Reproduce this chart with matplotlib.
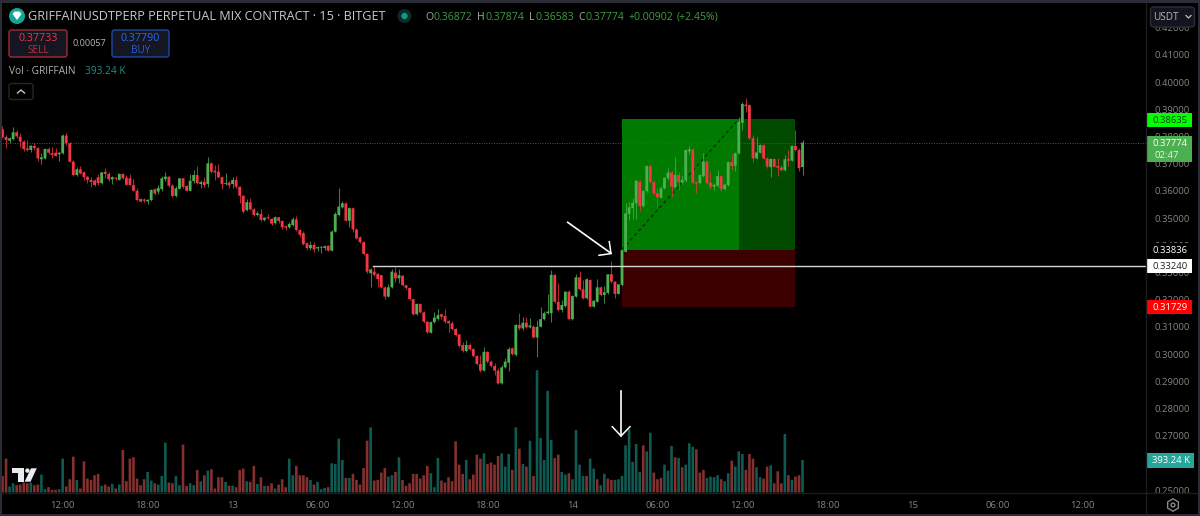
#!/usr/bin/env python3
"""GRIFFAINUSDTPERP 15m chart with a long position box, TradingView dark look."""

import matplotlib
matplotlib.use("Agg")
import matplotlib.pyplot as plt
from matplotlib.patches import Circle, FancyBboxPatch, Polygon, Rectangle, RegularPolygon

plt.rcParams["font.family"] = ["Open Sans", "DejaVu Sans"]

opens = [
    .3826, .3798, .3784, .3790, .3815, .3799, .3781, .3756, .3750, .3765,
    .3757, .3716, .3719, .3754, .3738, .3740, .3734, .3738, .3803, .3775,
    .3707, .3658, .3679, .3668, .3652, .3640, .3638, .3650, .3628, .3670,
    .3662, .3642, .3648, .3640, .3662, .3648, .3646, .3621, .3600, .3570,
    .3568, .3561, .3566, .3606, .3597, .3606, .3643, .3652, .3619, .3581,
    .3607, .3646, .3618, .3600, .3636, .3658, .3625, .3633, .3625, .3701,
    .3674, .3670, .3650, .3625, .3630, .3625, .3640, .3615, .3582, .3529,
    .3558, .3532, .3511, .3515, .3493, .3503, .3497, .3481, .3503, .3489,
    .3470, .3466, .3474, .3495, .3456, .3444, .3407, .3389, .3401, .3388,
    .3391, .3390, .3398, .3380, .3450, .3511, .3539, .3554, .3490, .3536,
    .3458, .3429, .3411, .3368, .3297, .3303, .3295, .3290, .3245, .3211,
    .3245, .3299, .3278, .3288, .3253, .3243, .3202, .3146, .3184, .3153,
    .3119, .3078, .3117, .3129, .3146, .3140, .3121, .3113, .3092, .3072,
    .3033, .3011, .3033, .3018, .2993, .2963, .2939, .3008, .2972, .2956,
    .2939, .2892, .2951, .2968, .3021, .2997, .3107, .3094, .3115, .3098,
    .3100, .3061, .3100, .3128, .3150, .3150, .3291, .3192, .3162, .3176,
    .3229, .3128, .3211, .3282, .3238, .3205, .3272, .3174, .3192, .3245,
    .3217, .3225, .3293, .3266, .3221, .3254, .3376, .3515, .3536, .3554,
    .3633, .3544, .3599, .3691, .3633, .3591, .3575, .3609, .3646, .3667,
    .3613, .3658, .3630, .3637, .3745, .3752, .3632, .3628, .3654, .3707,
    .3630, .3615, .3618, .3654, .3606, .3621, .3705, .3692, .3738, .3850,
    .3917, .3915, .3793, .3719, .3740, .3768, .3719, .3687, .3717, .3691,
    .3686, .3676, .3716, .3711, .3765, .3750, .36872,
]
highs = [
    .3838, .3805, .3799, .3833, .3824, .3811, .3787, .3787, .3770, .3775,
    .3762, .3739, .3754, .3762, .3762, .3756, .3741, .3810, .3812, .3780,
    .3712, .3686, .3692, .3674, .3655, .3652, .3645, .3660, .3670, .3683,
    .3670, .3655, .3652, .3665, .3664, .3658, .3662, .3645, .3610, .3575,
    .3573, .3570, .3605, .3612, .3621, .3654, .3670, .3655, .3625, .3618,
    .3648, .3648, .3622, .3662, .3676, .3691, .3640, .3652, .3724, .3705,
    .3695, .3699, .3655, .3665, .3635, .3650, .3654, .3618, .3585, .3570,
    .3574, .3537, .3525, .3533, .3504, .3515, .3500, .3507, .3505, .3492,
    .3475, .3485, .3505, .3507, .3460, .3452, .3413, .3415, .3412, .3396,
    .3398, .3399, .3400, .3456, .3522, .3609, .3562, .3558, .3540, .3540,
    .3462, .3434, .3415, .3372, .3316, .3324, .3298, .3292, .3250, .3257,
    .3312, .3319, .3312, .3290, .3255, .3245, .3204, .3186, .3186, .3158,
    .3122, .3122, .3154, .3164, .3150, .3164, .3126, .3120, .3096, .3075,
    .3044, .3051, .3040, .3022, .2996, .2996, .3025, .3011, .2978, .2967,
    .2950, .2958, .2985, .3025, .3025, .3110, .3150, .3136, .3136, .3132,
    .3107, .3125, .3174, .3158, .3220, .3309, .3295, .3261, .3198, .3231,
    .3235, .3216, .3294, .3305, .3272, .3279, .3275, .3198, .3275, .3250,
    .3250, .3295, .3342, .3268, .3258, .3385, .3555, .3559, .3574, .3641,
    .3641, .3603, .3695, .3699, .3636, .3610, .3617, .3651, .3684, .3673,
    .3724, .3669, .3658, .3754, .3765, .3757, .3636, .3662, .3739, .3710,
    .3669, .3630, .3676, .3658, .3628, .3710, .3735, .3742, .3871, .3926,
    .3940, .3919, .3805, .3798, .3772, .3772, .3723, .3721, .3721, .3721,
    .3695, .3732, .3750, .3768, .3824, .3757, .37874,
]
lows = [
    .3793, .3756, .3777, .3787, .3795, .3762, .3748, .3748, .3742, .3750,
    .3711, .3697, .3716, .3734, .3722, .3728, .3711, .3735, .3770, .3705,
    .3655, .3655, .3660, .3640, .3630, .3615, .3618, .3622, .3625, .3646,
    .3636, .3625, .3640, .3638, .3642, .3620, .3620, .3598, .3562, .3558,
    .3560, .3551, .3562, .3585, .3588, .3600, .3637, .3615, .3578, .3577,
    .3605, .3610, .3598, .3598, .3630, .3625, .3609, .3615, .3615, .3665,
    .3640, .3648, .3607, .3623, .3610, .3610, .3612, .3555, .3518, .3525,
    .3528, .3507, .3509, .3489, .3489, .3497, .3474, .3478, .3483, .3460,
    .3456, .3463, .3470, .3454, .3430, .3402, .3382, .3382, .3375, .3380,
    .3372, .3384, .3378, .3378, .3448, .3508, .3535, .3488, .3466, .3449,
    .3422, .3408, .3364, .3299, .3247, .3288, .3247, .3241, .3202, .3208,
    .3243, .3266, .3260, .3249, .3240, .3198, .3143, .3144, .3150, .3115,
    .3076, .3076, .3113, .3125, .3130, .3115, .3081, .3089, .3066, .3026,
    .3007, .3007, .3014, .2989, .2959, .2934, .2936, .2968, .2952, .2923,
    .2890, .2890, .2947, .2938, .2996, .2993, .3090, .3090, .3094, .3094,
    .3058, .2990, .3098, .3125, .3146, .3118, .3189, .3158, .3154, .3172,
    .3125, .3125, .3209, .3235, .3202, .3202, .3172, .3172, .3190, .3213,
    .3186, .3222, .3261, .3206, .3219, .3250, .3374, .3493, .3497, .3496,
    .3526, .3540, .3596, .3628, .3584, .3540, .3572, .3606, .3640, .3577,
    .3610, .3603, .3626, .3633, .3735, .3625, .3593, .3625, .3651, .3625,
    .3606, .3603, .3614, .3599, .3603, .3618, .3676, .3673, .3735, .3822,
    .3888, .3790, .3705, .3717, .3738, .3717, .3683, .3650, .3686, .3654,
    .3672, .3672, .3691, .3709, .3746, .3672, .36583,
]
closes = [
    .3797, .3787, .3793, .3815, .3800, .3781, .3753, .3750, .3766, .3757,
    .3719, .3723, .3754, .3740, .3732, .3728, .3740, .3803, .3775, .3707,
    .3658, .3679, .3664, .3650, .3640, .3632, .3621, .3628, .3668, .3662,
    .3642, .3650, .3644, .3662, .3646, .3622, .3621, .3600, .3566, .3560,
    .3563, .3567, .3603, .3590, .3610, .3646, .3652, .3619, .3581, .3609,
    .3646, .3615, .3600, .3637, .3658, .3628, .3632, .3621, .3701, .3670,
    .3667, .3650, .3625, .3628, .3620, .3640, .3615, .3582, .3523, .3558,
    .3532, .3511, .3517, .3493, .3501, .3499, .3479, .3503, .3489, .3466,
    .3465, .3478, .3495, .3456, .3438, .3404, .3389, .3401, .3384, .3393,
    .3394, .3396, .3380, .3450, .3515, .3542, .3554, .3490, .3536, .3458,
    .3425, .3411, .3368, .3303, .3311, .3291, .3275, .3245, .3211, .3245,
    .3303, .3278, .3290, .3253, .3243, .3202, .3146, .3184, .3153, .3119,
    .3080, .3117, .3134, .3143, .3137, .3119, .3113, .3092, .3070, .3030,
    .3012, .3033, .3017, .2993, .2963, .2939, .3008, .2972, .2956, .2939,
    .2892, .2951, .2972, .3018, .3000, .3107, .3094, .3115, .3098, .3105,
    .3061, .3100, .3128, .3150, .3156, .3291, .3192, .3162, .3180, .3229,
    .3128, .3213, .3282, .3238, .3205, .3275, .3174, .3196, .3245, .3217,
    .3227, .3293, .3266, .3221, .3256, .3382, .3517, .3539, .3556, .3637,
    .3544, .3600, .3691, .3633, .3591, .3576, .3609, .3648, .3667, .3615,
    .3658, .3631, .3640, .3750, .3752, .3630, .3627, .3658, .3707, .3628,
    .3615, .3622, .3654, .3606, .3623, .3705, .3691, .3738, .3854, .3919,
    .3911, .3793, .3719, .3741, .3768, .3719, .3689, .3717, .3689, .3685,
    .3676, .3716, .3711, .3765, .3750, .3683, .37774,
]
# volume in thousands, 227 bars
volumes = [
    200, 408, 72, 112, 88, 96, 120, 112, 120, 88,
    96, 216, 40, 64, 32, 32, 40, 408, 72, 160,
    432, 152, 48, 376, 168, 152, 208, 224, 80, 96,
    72, 104, 48, 96, 512, 136, 408, 424, 168, 88,
    160, 248, 144, 112, 96, 200, 600, 120, 112, 200,
    88, 576, 80, 112, 88, 272, 136, 208, 264, 280,
    48, 184, 184, 128, 80, 80, 64, 272, 288, 136,
    128, 320, 104, 184, 80, 80, 112, 48, 96, 160,
    64, 408, 208, 320, 208, 208, 184, 152, 96, 128,
    40, 56, 64, 352, 344, 648, 392, 176, 176, 224,
    152, 96, 296, 624, 784, 144, 152, 240, 296, 192,
    208, 248, 424, 152, 80, 112,
    224, 224, 168, 208, 320, 232, 64, 416, 144, 120,
    184, 136, 616, 336, 224, 392, 160, 216, 456, 408,
    472, 344, 360, 336, 440, 472, 312, 464, 272, 784,
    528, 344, 312, 624, 200, 1472, 656, 392, 1224, 632,
    416, 456, 248, 216, 232, 160, 752, 336, 200, 200,
    408, 288, 160, 88, 224, 168, 152, 152, 160, 200,
    568, 760, 368, 584, 248, 568, 496, 720, 240, 160,
    176, 336, 264, 560, 424, 416, 304, 336, 592, 552,
    520, 240, 272, 176, 192, 184, 208, 160, 136, 232,
    384, 312, 496, 464, 272, 464, 408, 304, 184, 168,
    312, 328, 112, 256, 112, 704, 208, 152, 192, 208, 392,
]
vol_up = [
    0, 0, 1, 1, 0, 0, 0, 0, 1, 0,
    0, 1, 1, 0, 0, 0, 1, 1, 0, 0,
    0, 1, 0, 0, 0, 0, 0, 0, 1, 0,
    0, 1, 0, 1, 0, 0, 0, 0, 0, 0,
    0, 1, 1, 0, 1, 1, 1, 0, 0, 1,
    1, 0, 0, 1, 1, 0, 1, 0, 1, 0,
    0, 0, 0, 1, 0, 1, 0, 0, 0, 1,
    0, 0, 1, 0, 1, 0, 0, 1, 0, 0,
    0, 1, 1, 0, 0, 0, 0, 1, 0, 1,
    1, 1, 0, 1, 1, 1, 1, 0, 1, 0,
    0, 0, 0, 0, 1, 0, 0, 0, 0, 1,
    1, 0, 1, 0, 0, 0,
    0, 0, 0, 0, 0, 1, 1, 1, 0, 0,
    0, 0, 0, 0, 0, 1, 0, 0, 0, 0,
    1, 0, 0, 0, 0, 1, 1, 1, 0, 1,
    0, 1, 0, 1, 0, 1, 1, 1, 1, 1,
    0, 0, 1, 1, 0, 1, 1, 1, 1, 0,
    1, 1, 0, 1, 1, 0, 0, 1, 1, 1,
    1, 1, 1, 1, 1, 0, 1, 1, 0, 0,
    0, 1, 1, 1, 0, 1, 0, 1, 1, 1,
    0, 0, 0, 1, 1, 1, 1, 0, 1, 1,
    0, 1, 1, 1, 0, 0, 0, 1, 1, 0,
    0, 1, 0, 0, 0, 1, 0, 1, 0, 0, 1,
]
price_ticks = [.25, .26, .27, .28, .29, .30, .31, .32, .33, .34, .35, .36, .37, .38, .39, .40, .41, .42]
time_ticks = [17, 41, 65, 89, 113, 137, 161, 185, 209, 233, 257, 281, 305]
time_labels = ["12:00", "18:00", "13", "06:00", "12:00", "18:00", "14", "06:00", "12:00", "18:00", "15", "06:00", "12:00"]

last_price = 0.37774
target = 0.38635
entry = 0.33836
stop = 0.31729
level = 0.33240

UP = "#4caf50"
DOWN = "#f23645"
VOL_UP = "#0f5a52"
VOL_DOWN = "#84302e"
GREY = "#858585"
TITLE = "#c9c9c9"

W, H = 1200, 516
PANE_R, PANE_T, PANE_B = 1146, 3, 492.5
AXIS_FS = 6.8


def y_price(px):
    return 0.40 - (px - 82) / 2720


fig = plt.figure(figsize=(12, 5.16), dpi=100, facecolor="black")

ax = fig.add_axes([0, 1 - PANE_B / H, PANE_R / W, (PANE_B - PANE_T) / H], facecolor="black")
xlim = (-0.706, (PANE_R - 2.5) / 3.54)
ax.set_xlim(*xlim)
ax.set_ylim(y_price(PANE_B), y_price(PANE_T))
for s in ax.spines.values():
    s.set_visible(False)
ax.yaxis.tick_right()
ax.set_yticks(price_ticks, [f"{p:.5f}" for p in price_ticks])
ax.set_xticks(time_ticks, time_labels)
ax.tick_params(axis="y", length=0, pad=5.8, labelsize=AXIS_FS, labelcolor=GREY)
ax.tick_params(axis="x", length=0, pad=6, labelsize=AXIS_FS, labelcolor=GREY)

# position box, from the entry bar to 49 bars on
box_start, box_split, box_end = 174.9, 208.05, 223.9
ax.add_patch(Rectangle((box_start, entry), box_split - box_start, target - entry, fc="#007a00", ec="none", zorder=1))
ax.add_patch(Rectangle((box_split, entry), box_end - box_split, target - entry, fc="#004b00", ec="none", zorder=1))
ax.add_patch(Rectangle((box_start, stop), box_end - box_start, entry - stop, fc="#3d0000", ec="none", zorder=1))
ax.plot([175, 208], [entry, target], color="#06260a", lw=0.9, ls=(0, (2.5, 2.5)), zorder=1.2)

ax.axhline(last_price, color="#2f6b33", lw=0.7, ls=(0, (1, 1.5)), zorder=1.5)
ax.plot([104.7, xlim[1]], [level, level], color="#d6d6d6", lw=1.0, zorder=4)

for i in range(len(closes)):
    col = UP if closes[i] >= opens[i] else DOWN
    ax.plot([i, i], [lows[i], highs[i]], color=col, lw=0.75, alpha=0.75, zorder=2, solid_capstyle="butt")
    ax.bar(i, abs(closes[i] - opens[i]), bottom=min(opens[i], closes[i]), width=0.8, color=col, lw=0, zorder=3, snap=False)

vax = fig.add_axes([0, 1 - PANE_B / H, PANE_R / W, (PANE_B - PANE_T) / H], facecolor="none")
vax.set_xlim(*xlim)
vax.set_ylim(0, (PANE_B - PANE_T) * 12.04)
vax.axis("off")
vax.bar(range(len(volumes)), volumes, width=0.74, lw=0, snap=False,
        color=[VOL_UP if u else VOL_DOWN for u in vol_up])

# screen furniture in pixel coordinates
ui = fig.add_axes([0, 0, 1, 1], facecolor="none")
ui.set_xlim(0, W)
ui.set_ylim(H, 0)
ui.axis("off")

for frame in [(0, 0, W, 2.5), (0, 513.5, W, 2.5), (0, 0, 2, H), (1197.5, 0, 2.5, H)]:
    ui.add_patch(Rectangle(frame[:2], frame[2], frame[3], fc="#2a2d36", ec="none"))
ui.plot([PANE_R, PANE_R], [3, 513], color="#1c1c20", lw=1)
ui.plot([2, 1197], [492.5, 492.5], color="#1c1c20", lw=1)


def box(x, y, w, h, fc, ec, rad=2.5, lw=1.0):
    ui.add_patch(FancyBboxPatch((x, y), w, h, boxstyle=f"round,pad=0,rounding_size={rad}",
                                fc=fc, ec=ec, lw=lw))


def label(x, y, s, color=GREY, size=AXIS_FS, ha="left", **kw):
    ui.text(x, y, s, color=color, fontsize=size, ha=ha, va="center", **kw)


# symbol header
ui.add_patch(Circle((17, 16), 8, fc="#14a593", ec="none"))
ui.add_patch(Polygon([(12.5, 14), (14.5, 11.5), (19.5, 11.5), (21.5, 14), (17, 20)], fc="white", ec="none"))
label(28, 17, "GRIFFAINUSDTPERP PERPETUAL MIX CONTRACT · 15 · BITGET", TITLE, 9.05)
ui.add_patch(Circle((404.5, 16), 7, fc="#0c2a27", ec="none"))
ui.add_patch(Circle((404.5, 16), 3.2, fc="#0c9b85", ec="none"))
for x, s in [(425.5, "O"), (477.5, "H"), (528.5, "L"), (578, "C")]:
    label(x, 17, s, "#a8a8a8", 7.6)
for x, s in [(433.5, "0.36872"), (485.5, "0.37874"), (535, "0.36583"), (585, "0.37774"),
             (628.5, "+0.00902"), (676.5, "(+2.45%)")]:
    label(x, 17, s, "#3f9c45", 7.6)

# sell / buy
box(9, 30, 58, 27, "#141721", "#a12a3a")
label(38, 38.5, "0.37733", DOWN, 7.7, ha="center")
label(38, 50.5, "SELL", "#c42b3c", 7.2, ha="center")
label(89, 44, "0.00057", "#b5b5b5", 6.6, ha="center")
box(112, 30, 57, 27, "#141721", "#1f47a8")
label(140.5, 38.5, "0.37790", "#2f66f0", 7.7, ha="center")
label(140.5, 50.5, "BUY", "#2a5bd6", 7.2, ha="center")

label(9, 71, "Vol · GRIFFAIN", "#b0b0b0", 7.3)
label(85, 71, "393.24 K", "#1f8f83", 7.3)
box(9, 83.5, 24, 16, "black", "#26262b")
ui.plot([17.5, 21, 24.5], [93, 90, 93], color="#c8c8c8", lw=1)

# USDT selector
box(1150.5, 7, 44, 20, "#12151d", "#2a2e39", rad=3)
label(1153, 17, "USDT", "#b5b5b5", 7.2)
ui.plot([1186, 1188.5, 1191], [15.5, 18, 15.5], color="#c0c0c0", lw=0.9)

# price flags
ui.add_patch(Rectangle((1147, 113), 45, 14, fc="#00ff00", ec="none"))
label(1170, 120.3, "0.38635", "#0b3d0b", ha="center")
ui.add_patch(Rectangle((1147, 136), 45, 26, fc="#4caf50", ec="none"))
label(1170, 143.5, "0.37774", "white", ha="center")
label(1167, 155, "02:47", "#e8f5e9", ha="center")
ui.add_patch(Rectangle((1147, 243), 45, 14.5, fc="black", ec="none"))
label(1170, 250.3, "0.33836", "white", ha="center")
ui.add_patch(Rectangle((1147, 259), 45, 14, fc="white", ec="none"))
label(1170, 266.3, "0.33240", "#222222", ha="center")
ui.add_patch(Rectangle((1147, 300), 45, 14, fc="#ff0000", ec="none"))
label(1170, 307.3, "0.31729", "white", ha="center")
ui.add_patch(Rectangle((1147, 453), 47, 14.5, fc="#26a69a", ec="none"))
label(1171, 460.3, "393.24 K", "white", ha="center")

# settings gear
ui.add_patch(RegularPolygon((1173, 505), 6, radius=6.2, fc="none", ec="#8a8a8a", lw=1))
ui.add_patch(Circle((1173, 505), 1.9, fc="none", ec="#8a8a8a", lw=1))

# drawn arrows
ui.plot([567.7, 611], [222.3, 253.3], color="white", lw=1.2)
ui.plot([609.3, 611, 599], [241.7, 253.6, 255.3], color="white", lw=1.1)
ui.plot([621, 621], [390.7, 436], color="white", lw=1.2)
ui.plot([612.3, 621, 630], [426.7, 436, 426.7], color="white", lw=1.1)

# TradingView mark
ui.add_patch(Polygon([(11.7, 468.3), (24, 468.3), (24, 481.7), (18, 481.7), (18, 473), (11.7, 473)], fc="#e8ecf2", ec="none"))
ui.add_patch(Circle((27.4, 470.6), 2.2, fc="#e8ecf2", ec="none"))
ui.add_patch(Polygon([(31, 468.3), (36.8, 468.3), (30.5, 481.7), (24.6, 481.7)], fc="#e8ecf2", ec="none"))

fig.savefig("out.png", dpi=100, facecolor="black")
